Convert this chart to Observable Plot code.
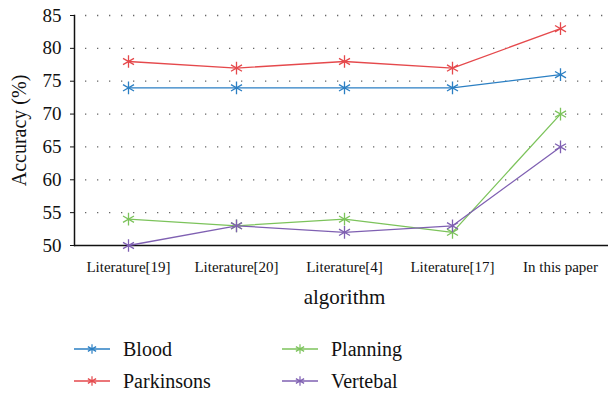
<!DOCTYPE html>
<html><head><meta charset="utf-8">
<script src="https://cdn.jsdelivr.net/npm/d3@7"></script>
<script src="https://cdn.jsdelivr.net/npm/@observablehq/plot@0.6"></script>
<style>
body{margin:0;background:#fff;font-family:'Liberation Serif',serif;}
#legend{position:relative;height:76px;width:608px;}
.item{position:absolute;display:flex;align-items:center;height:32px;font-size:20px;color:#111;}
.item svg{margin-right:13px;}
svg text{font-family:'Liberation Serif',serif;}
</style></head>
<body><div id="chart"></div><div id="legend"></div>
<script>
const categories = ["Literature[19]","Literature[20]","Literature[4]","Literature[17]","In this paper"];
const seriesNames = ["Blood","Parkinsons","Planning","Vertebal"];
const blood = [74,74,74,74,76];
const parkinsons = [78,77,78,77,83];
const planning = [54,53,54,52,70];
const vertebal = [50,53,52,53,65];
const colors = ["#2b7fc3","#e5494c","#7cc35b","#7f60b2"];
const yTicks = [50,55,60,65,70,75,80,85];

const values = [blood, parkinsons, planning, vertebal];
const data = [];
seriesNames.forEach((s,i)=>categories.forEach((c,j)=>data.push({series:s, algorithm:c, acc:values[i][j]})));

const chart = Plot.plot({
  width: 608, height: 320,
  marginLeft: 74, marginRight: 0, marginTop: 15, marginBottom: 75,
  style: {fontFamily: "Liberation Serif, serif", color: "#111", background: "#fff"},
  x: {type: "point", domain: categories, range: [128, 560], padding: 0},
  y: {domain: [50, 85]},
  color: {domain: seriesNames, range: colors},
  marks: [
    Plot.gridY(yTicks.filter(t=>t>50), {stroke: "#666", strokeOpacity: 1, strokeWidth: 1.3, strokeDasharray: "1.3,10.7", strokeDashoffset: -11}),
    Plot.axisY({ticks: yTicks, tickSize: 4, tickPadding: 9, fontSize: 19, label: null, stroke: "#111"}),
    Plot.axisX({tickSize: 0, tickPadding: 16, fontSize: 15, label: null}),
    Plot.ruleY([50], {stroke: "#111", strokeWidth: 1.5}),
    Plot.frame({anchor: "left", stroke: "#111", strokeWidth: 1.5}),
    Plot.line(data, {x: "algorithm", y: "acc", z: "series", stroke: "series", strokeWidth: 1.3}),
    Plot.dot(data, {x: "algorithm", y: "acc", stroke: "series", symbol: "asterisk", r: 6, strokeWidth: 1.3}),
    Plot.text(["Accuracy (%)"], {frameAnchor: "left", textAnchor: "middle", lineAnchor: "middle", dx: -55, rotate: -90, fontSize: 20, fill: "#111"}),
    Plot.text(["algorithm"], {frameAnchor: "bottom", textAnchor: "middle", lineAnchor: "middle", dx: 3, dy: 52, fontSize: 21, fill: "#111"})
  ]
});
document.getElementById("chart").appendChild(chart);

const legend = document.getElementById("legend");
const pos = [[74,13],[74,45],[282,13],[282,45]];
const sym = d3.symbol(d3.symbolAsterisk, Math.PI*4.5*4.5)();
seriesNames.forEach((s,i)=>{
  const d = document.createElement("div");
  d.className = "item";
  d.style.left = pos[i][0]+"px"; d.style.top = pos[i][1]+"px";
  d.innerHTML = `<svg width="36" height="16"><line x1="0" x2="36" y1="8" y2="8" stroke="${colors[i]}" stroke-width="1.3"/><path d="${sym}" transform="translate(18,8)" fill="none" stroke="${colors[i]}" stroke-width="1.2"/></svg><span>${s}</span>`;
  legend.appendChild(d);
});
</script></body></html>
